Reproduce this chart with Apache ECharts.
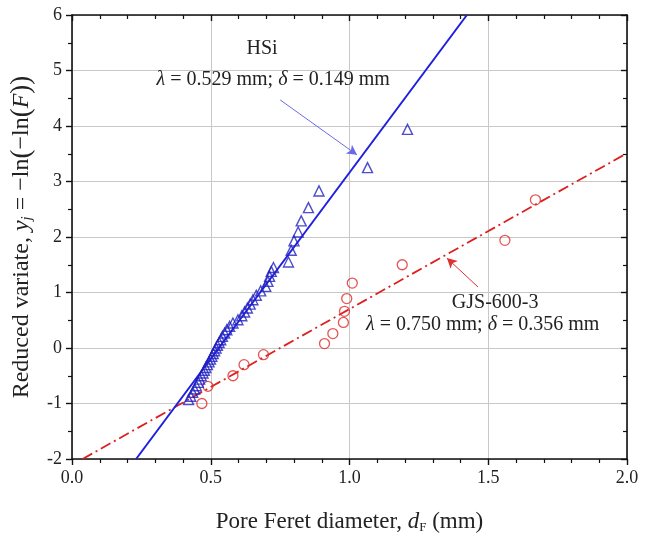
<!DOCTYPE html>
<html><head><meta charset="utf-8">
<script src="https://cdn.jsdelivr.net/npm/echarts@6/dist/echarts.min.js"></script>
<style>html,body{margin:0;padding:0;background:#fff}#c{width:652px;height:533px}</style>
</head><body><div id="c"></div>
<script>
// HSi data (pore Feret diameter mm, reduced variate)
var hsiX = [0.420,0.428,0.435,0.442,0.448,0.455,0.460,0.466,0.472,0.477,0.482,0.488,0.494,0.499,0.504,0.509,0.514,0.519,0.524,0.530,0.536,0.542,0.550,0.558,0.568,0.580,0.598,0.612,0.622,0.632,0.642,0.652,0.664,0.680,0.698,0.706,0.712,0.718,0.726,0.780,0.790,0.800,0.815,0.826,0.852,0.890,1.065,1.209];
var hsiY = [-0.93,-0.87,-0.80,-0.74,-0.68,-0.62,-0.56,-0.50,-0.45,-0.40,-0.35,-0.30,-0.25,-0.20,-0.15,-0.10,-0.05,0.00,0.05,0.10,0.15,0.21,0.27,0.33,0.39,0.45,0.51,0.58,0.65,0.72,0.79,0.87,0.95,1.03,1.11,1.20,1.29,1.38,1.45,1.55,1.76,1.93,2.09,2.29,2.53,2.83,3.25,3.94];
// GJS-600-3 data
var gjsX = [0.468,0.490,0.580,0.620,0.690,0.910,0.940,0.978,0.982,0.990,1.010,1.190,1.560,1.670];
var gjsY = [-1.00,-0.69,-0.50,-0.30,-0.12,0.08,0.26,0.46,0.66,0.89,1.17,1.50,1.94,2.67];
// fitted lines (endpoints)
var hsiFitX = [0.231,1.423];
var hsiFitY = [-2,6];
var gjsFitX = [0.038,2.0];
var gjsFitY = [-2,3.51];
// tick labels
var xTicks = [0,0.5,1.0,1.5,2.0];
var yTicks = [-2,-1,0,1,2,3,4,5,6];

function zip(a,b){return a.map(function(v,i){return [v,b[i]];});}
var FONT = 'Liberation Serif';
var chart = echarts.init(document.getElementById('c'));
var baseX = {
  type:'value', min:0, max:2, interval:0.5,
  axisLine:{show:true,onZero:false,lineStyle:{color:'#111',width:1.6}},
  splitLine:{show:false}
};
var baseY = {
  type:'value', min:-2, max:6, interval:1,
  axisLine:{show:true,onZero:false,lineStyle:{color:'#111',width:1.6}},
  splitLine:{show:false}
};
var labelStyle = {fontFamily:FONT,fontSize:18,color:'#222'};
var ANN = 20;
chart.setOption({
  animation:false,
  backgroundColor:'#fff',
  textStyle:{fontFamily:FONT},
  grid:{left:72,right:25,top:15,bottom:74,containLabel:false,outerBoundsMode:'none'},
  xAxis:[
    Object.assign({}, baseX, {
      position:'bottom',
      axisTick:{show:true,length:6,lineStyle:{color:'#111',width:1.4}},
      minorTick:{show:true,splitNumber:5,length:4,lineStyle:{color:'#111',width:1.2}},
      splitLine:{show:true,lineStyle:{color:'#c8c8c8',width:1}},
      axisLabel:Object.assign({margin:10,formatter:function(v){return xTicks.indexOf(v)>=0?v.toFixed(1):'';}},labelStyle),
      name:'Pore Feret diameter, {i|d}{sub|F} (mm)',
      nameLocation:'middle', nameGap:50,
      nameTextStyle:{fontFamily:FONT,fontSize:23,color:'#222',
        rich:{i:{fontFamily:FONT,fontStyle:'italic',fontSize:23,color:'#222'},
              sub:{fontFamily:FONT,fontSize:13,color:'#222',padding:[12,0,0,0]}}}
    }),
    Object.assign({}, baseX, {
      position:'top',
      axisTick:{show:true,inside:true,length:6,lineStyle:{color:'#111',width:1.4}},
      minorTick:{show:true,splitNumber:5,length:4,lineStyle:{color:'#111',width:1.2}},
      axisLabel:{show:false}
    })
  ],
  yAxis:[
    Object.assign({}, baseY, {
      position:'left',
      axisTick:{show:true,length:6,lineStyle:{color:'#111',width:1.4}},
      minorTick:{show:true,splitNumber:2,length:4,lineStyle:{color:'#111',width:1.2}},
      splitLine:{show:true,lineStyle:{color:'#c8c8c8',width:1}},
      axisLabel:Object.assign({margin:10,formatter:function(v){return yTicks.indexOf(v)>=0?String(v):'';}},labelStyle),
      name:'Reduced variate, {i|y}{sub|j} = \u2212ln{p|(}\u2212ln{p|(}{i|F}{p|))}',
      nameLocation:'middle', nameGap:37, nameRotate:90,
      nameTextStyle:{fontFamily:FONT,fontSize:24,color:'#222',
        rich:{i:{fontFamily:FONT,fontStyle:'italic',fontSize:24,color:'#222'},
              p:{fontFamily:FONT,fontSize:27,color:'#222'},
              sub:{fontFamily:FONT,fontStyle:'italic',fontSize:15,color:'#222',padding:[12,0,0,0]}}}
    }),
    Object.assign({}, baseY, {
      position:'right',
      axisTick:{show:true,inside:true,length:6,lineStyle:{color:'#111',width:1.4}},
      minorTick:{show:true,splitNumber:2,length:4,lineStyle:{color:'#111',width:1.2}},
      axisLabel:{show:false}
    })
  ],
  series:[
    {
      name:'GJS fit', type:'line', data:zip(gjsFitX,gjsFitY), symbol:'none', silent:true,
      lineStyle:{color:'#dc2020',width:1.8,type:[11,4,2,4]}, z:2,
      markLine:{silent:true, symbol:['none','arrow'], symbolSize:[8,10],
        lineStyle:{color:'#e03030',width:1,type:'solid'}, label:{show:false},
        data:[[{coord:[1.463,1.10]},{coord:[1.351,1.62]}]]},
      markPoint:{silent:true, symbol:'circle', symbolSize:0,
        data:[
          {coord:[1.525,0.81],
           label:{show:true,formatter:'GJS-600-3',fontFamily:FONT,fontSize:ANN,color:'#222'}},
          {coord:[1.48,0.41],
           label:{show:true,formatter:'{i|\u03bb} = 0.750 mm; {i|\u03b4} = 0.356 mm',fontFamily:FONT,fontSize:ANN,color:'#222',
             rich:{i:{fontFamily:FONT,fontStyle:'italic',fontSize:ANN,color:'#222'}}}}
        ]}
    },
    {
      name:'HSi fit', type:'line', data:zip(hsiFitX,hsiFitY), symbol:'none', silent:true,
      lineStyle:{color:'#1f1fe0',width:2}, z:2,
      markLine:{silent:true, symbol:['none','arrow'], symbolSize:[8,10],
        lineStyle:{color:'#6a6ae8',width:1,type:'solid'}, label:{show:false},
        data:[[{coord:[0.75,4.47]},{coord:[1.027,3.48]}]]},
      markPoint:{silent:true, symbol:'circle', symbolSize:0,
        data:[
          {coord:[0.685,5.40],
           label:{show:true,formatter:'HSi',fontFamily:FONT,fontSize:ANN,color:'#222'}},
          {coord:[0.725,4.84],
           label:{show:true,formatter:'{i|\u03bb} = 0.529 mm; {i|\u03b4} = 0.149 mm',fontFamily:FONT,fontSize:ANN,color:'#222',
             rich:{i:{fontFamily:FONT,fontStyle:'italic',fontSize:ANN,color:'#222'}}}}
        ]}
    },
    {
      name:'GJS-600-3', type:'scatter', data:zip(gjsX,gjsY), symbol:'circle', symbolSize:10,
      itemStyle:{color:'rgba(255,255,255,0)',borderColor:'#e02a2a',borderWidth:1.3}, z:3
    },
    {
      name:'HSi', type:'scatter', data:zip(hsiX,hsiY), symbol:'triangle', symbolSize:10,
      itemStyle:{color:'rgba(255,255,255,0)',borderColor:'#2020c0',borderWidth:1.4}, z:4
    }
  ]
});
</script></body></html>
